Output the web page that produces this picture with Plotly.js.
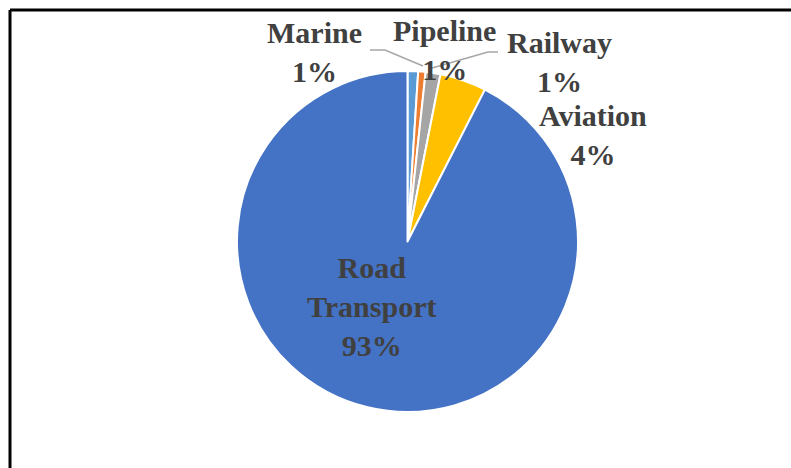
<!DOCTYPE html>
<html>
<head>
<meta charset="utf-8">
<script src="https://cdn.plot.ly/plotly-3.0.1.min.js"></script>
<style>html,body{margin:0;padding:0;background:#fff;}#chart{width:791px;height:468px;}</style>
</head>
<body>
<div id="chart"></div>
<script>
var categories = ["Marine", "Pipeline", "Railway", "Aviation", "Road Transport"];
var labelLines = ["Marine", "Pipeline", "Railway", "Aviation", "Road<br>Transport"];
var shares = [1.0, 0.7, 1.4, 4.4, 92.5];
var colors = ["#5B9BD5", "#ED7D31", "#A5A5A5", "#FFC000", "#4472C4"];

var W = 791, H = 468;
function px(x) { return x / W; }
function py(y) { return 1 - y / H; }

var total = shares.reduce(function (a, b) { return a + b; }, 0);
var pctText = shares.map(function (v) { return Math.round(v / total * 100) + "%"; });

// label block centres (pixels)
var labelPos = [[314, 52], [445, 50], [559, 62], [593, 135], [371, 306]];

var annotations = categories.map(function (c, i) {
  return {
    xref: "paper", yref: "paper",
    x: px(labelPos[i][0]), y: py(labelPos[i][1]),
    xanchor: "center", yanchor: "middle",
    text: labelLines[i] + "<br>" + pctText[i],
    showarrow: false,
    align: "center",
    font: {family: "Liberation Serif, Times New Roman, serif", size: 30, color: "#404040", weight: "bold"}
  };
});

function pathOf(pts) {
  return pts.map(function (p, i) { return (i ? "L" : "M") + px(p[0]) + "," + py(p[1]); }).join(" ");
}

var shapes = [
  {type: "line", xref: "paper", yref: "paper", x0: px(10), y0: py(10), x1: 1, y1: py(10), line: {color: "#000", width: 3}},
  {type: "line", xref: "paper", yref: "paper", x0: px(10), y0: py(10), x1: px(10), y1: 0, line: {color: "#000", width: 3}},
  {type: "path", xref: "paper", yref: "paper", path: pathOf([[370, 50], [385, 50], [423, 66]]), line: {color: "#A6A6A6", width: 1.5}},
  {type: "path", xref: "paper", yref: "paper", path: pathOf([[498, 52], [488, 52], [432, 68]]), line: {color: "#A6A6A6", width: 1.5}}
];

var trace = {
  type: "pie",
  labels: categories,
  values: shares,
  sort: false,
  direction: "clockwise",
  rotation: 0,
  textinfo: "none",
  hoverinfo: "label+percent",
  marker: {colors: colors, line: {color: "#FFFFFF", width: 2}},
  domain: {x: [px(236.5), px(578.5)], y: [py(412), py(71)]},
  showlegend: false
};

var layout = {
  width: W, height: H,
  margin: {l: 0, r: 0, t: 0, b: 0},
  paper_bgcolor: "#FFFFFF",
  showlegend: false,
  annotations: annotations,
  shapes: shapes
};

Plotly.newPlot("chart", [trace], layout, {displayModeBar: false, staticPlot: true});
</script>
</body>
</html>
